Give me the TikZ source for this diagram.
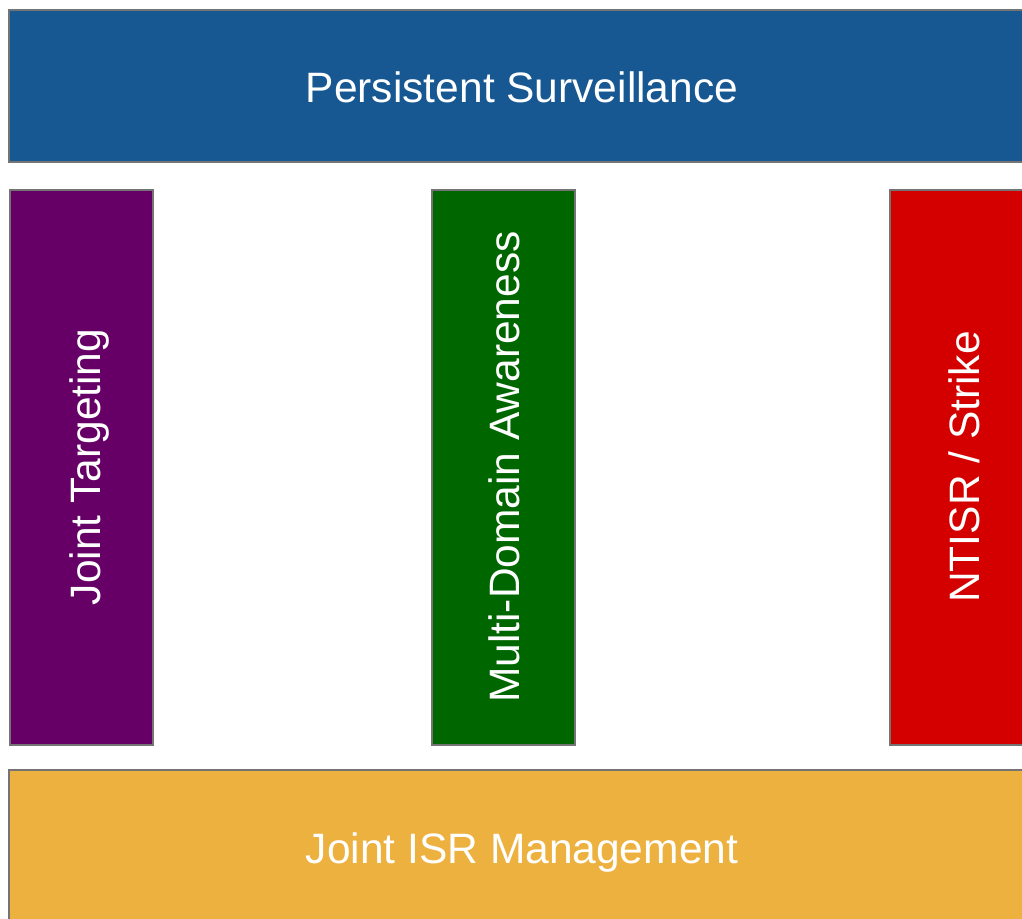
\documentclass[tikz,border=0pt]{standalone}
\usepackage{fontspec}
\setmainfont{Liberation Sans}
\definecolor{cblue}{HTML}{175893}
\definecolor{cpurple}{HTML}{660066}
\definecolor{cgreen}{HTML}{006600}
\definecolor{cred}{HTML}{D40000}
\definecolor{corange}{HTML}{EDB140}
\definecolor{cedge}{HTML}{747474}
\begin{document}
\begin{tikzpicture}[x=1pt,y=-1pt,
  band/.style={draw=cedge, line width=2pt, minimum width=1026pt, minimum height=152pt, inner sep=0pt, text=white, text depth=0pt, font=\fontsize{42.5}{50}\selectfont},
  pillar/.style={draw=cedge, line width=2pt, minimum width=555pt, minimum height=143pt, inner sep=0pt, rotate=90, text=white, text depth=0pt, font=\fontsize{42.5}{50}\selectfont}]
\useasboundingbox (0,0) rectangle (1022,918);
\clip (0,0) rectangle (1022,918);
\fill[white] (0,0) rectangle (1022,918);
\node[band, fill=cblue, text height=33pt] (top) at (522,85.5) {Persistent Surveillance};
\node[band, fill=corange, minimum height=160pt, text height=27.4pt] (bottom) at (522,849.5) {Joint ISR Management};
\node[pillar, fill=cpurple, text height=38pt] (jt) at (81,467) {Joint Targeting};
\node[pillar, fill=cgreen, text height=31pt] (mda) at (503.5,467) {Multi-Domain Awareness};
\node[pillar, fill=cred, text height=37pt] (ntisr) at (961,467) {NTISR / Strike};
\end{tikzpicture}
\end{document}
